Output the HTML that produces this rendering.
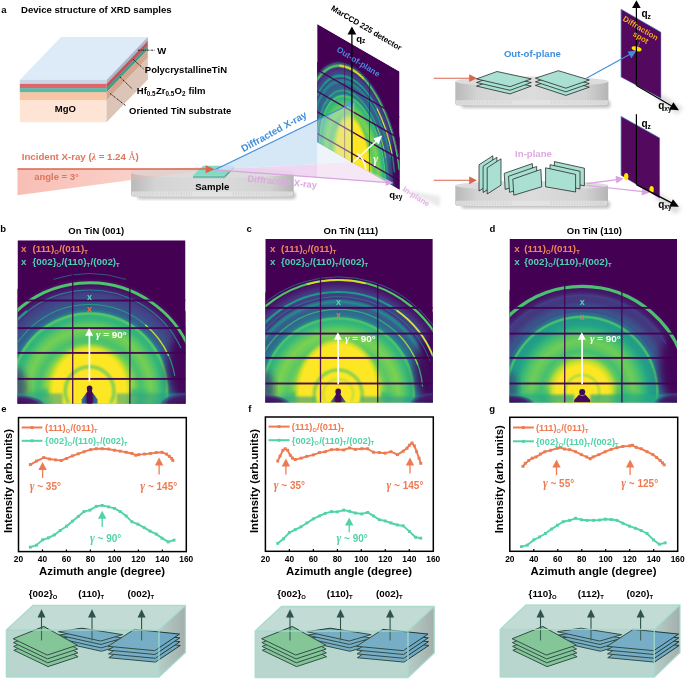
<!DOCTYPE html>
<html><head><meta charset="utf-8"><title>XRD figure</title>
<style>
html,body{margin:0;padding:0;background:#fff;}
svg{display:block;font-family:"Liberation Sans", Arial, sans-serif;}
</style></head><body>
<svg width="685" height="679" viewBox="0 0 685 679">
<defs>
<linearGradient id="bs" x1="0" y1="0" x2="1" y2="0"><stop offset="0" stop-color="#27808e"/><stop offset="0.22" stop-color="#3b528b"/><stop offset="0.38" stop-color="#440154"/><stop offset="0.62" stop-color="#440154"/><stop offset="0.78" stop-color="#3b528b"/><stop offset="1" stop-color="#27808e"/></linearGradient>
<filter id="blur3" x="-20%" y="-20%" width="140%" height="140%"><feGaussianBlur stdDeviation="0.3"/></filter>
<filter id="blur5" x="-20%" y="-20%" width="140%" height="140%"><feGaussianBlur stdDeviation="0.5"/></filter>
<filter id="blur8" x="-20%" y="-20%" width="140%" height="140%"><feGaussianBlur stdDeviation="0.8"/></filter>
<filter id="blur10" x="-20%" y="-20%" width="140%" height="140%"><feGaussianBlur stdDeviation="1.0"/></filter>
<filter id="blur15" x="-20%" y="-20%" width="140%" height="140%"><feGaussianBlur stdDeviation="1.5"/></filter>
<filter id="blur20" x="-20%" y="-20%" width="140%" height="140%"><feGaussianBlur stdDeviation="2.0"/></filter>
<filter id="blur30" x="-20%" y="-20%" width="140%" height="140%"><feGaussianBlur stdDeviation="3.0"/></filter>
<filter id="blur40" x="-20%" y="-20%" width="140%" height="140%"><feGaussianBlur stdDeviation="4.0"/></filter>
<radialGradient id="gb" gradientUnits="userSpaceOnUse" cx="0" cy="0" r="125"><stop offset="0.0000" stop-color="#b0dc2f"/><stop offset="0.3200" stop-color="#b0dc2f"/><stop offset="0.3520" stop-color="#87d448"/><stop offset="0.3920" stop-color="#54c467"/><stop offset="0.4160" stop-color="#49c16d"/><stop offset="0.4480" stop-color="#5fc860"/><stop offset="0.4880" stop-color="#75cf54"/><stop offset="0.5280" stop-color="#5fc860"/><stop offset="0.5600" stop-color="#41bd72"/><stop offset="0.5840" stop-color="#33b47a"/><stop offset="0.6040" stop-color="#33b47a"/><stop offset="0.6144" stop-color="#54c467"/><stop offset="0.6256" stop-color="#54c467"/><stop offset="0.6360" stop-color="#26828d"/><stop offset="0.6560" stop-color="#34628d"/><stop offset="0.6800" stop-color="#375a8c"/><stop offset="0.7040" stop-color="#3a548b"/><stop offset="0.7440" stop-color="#3f4988"/><stop offset="0.7840" stop-color="#423e83"/><stop offset="0.8080" stop-color="#482475"/><stop offset="0.8440" stop-color="#461264"/><stop offset="0.8880" stop-color="#450c5e"/><stop offset="0.9040" stop-color="#440154"/><stop offset="1.0000" stop-color="#440154"/></radialGradient>
<clipPath id="cb"><rect x="0" y="0" width="168" height="163.5"/></clipPath>
<radialGradient id="fb"><stop offset="0" stop-color="#440154" stop-opacity="1"/><stop offset="0.7" stop-color="#45186a" stop-opacity="0.95"/><stop offset="0.9" stop-color="#3b3f86" stop-opacity="0.6"/><stop offset="1" stop-color="#2a788e" stop-opacity="0"/></radialGradient>
<linearGradient id="wb" gradientUnits="userSpaceOnUse" x1="4.099999999999994" y1="0" x2="140.1" y2="0"><stop offset="0" stop-color="#35b779" stop-opacity="0"/><stop offset="0.15" stop-color="#35b779" stop-opacity="0.8"/><stop offset="0.5" stop-color="#bddf26" stop-opacity="0.8"/><stop offset="0.85" stop-color="#35b779" stop-opacity="0.8"/><stop offset="1" stop-color="#35b779" stop-opacity="0"/></linearGradient>
<radialGradient id="kb" gradientUnits="userSpaceOnUse" cx="0" cy="0" r="48"><stop offset="0.0000" stop-color="#fde725" stop-opacity="1"/><stop offset="0.8333" stop-color="#fde725" stop-opacity="1"/><stop offset="0.9083" stop-color="#d7e226" stop-opacity="0.9"/><stop offset="1.0000" stop-color="#a2d937" stop-opacity="0"/></radialGradient>
<radialGradient id="gc" gradientUnits="userSpaceOnUse" cx="0" cy="0" r="125"><stop offset="0.0000" stop-color="#b0dc2f"/><stop offset="0.3360" stop-color="#b0dc2f"/><stop offset="0.3760" stop-color="#6fcd57"/><stop offset="0.4080" stop-color="#5ac664"/><stop offset="0.4400" stop-color="#6acc5a"/><stop offset="0.4800" stop-color="#7ad151"/><stop offset="0.5200" stop-color="#5fc860"/><stop offset="0.5520" stop-color="#41bd72"/><stop offset="0.5760" stop-color="#33b47a"/><stop offset="0.5904" stop-color="#33b47a"/><stop offset="0.6000" stop-color="#4fc36a"/><stop offset="0.6096" stop-color="#49c16d"/><stop offset="0.6200" stop-color="#25878d"/><stop offset="0.6400" stop-color="#2d708e"/><stop offset="0.6720" stop-color="#33648d"/><stop offset="0.7040" stop-color="#365c8c"/><stop offset="0.7200" stop-color="#31698d"/><stop offset="0.7360" stop-color="#238c8c"/><stop offset="0.7520" stop-color="#31698d"/><stop offset="0.7640" stop-color="#443780"/><stop offset="0.7760" stop-color="#423e83"/><stop offset="0.8240" stop-color="#414487"/><stop offset="0.8720" stop-color="#482072"/><stop offset="0.9200" stop-color="#45085b"/><stop offset="0.9440" stop-color="#440154"/><stop offset="1.0000" stop-color="#440154"/></radialGradient>
<clipPath id="cc"><rect x="0" y="0" width="167.5" height="163.5"/></clipPath>
<radialGradient id="fc"><stop offset="0" stop-color="#440154" stop-opacity="1"/><stop offset="0.7" stop-color="#45186a" stop-opacity="0.95"/><stop offset="0.9" stop-color="#3b3f86" stop-opacity="0.6"/><stop offset="1" stop-color="#2a788e" stop-opacity="0"/></radialGradient>
<linearGradient id="wc" gradientUnits="userSpaceOnUse" x1="8.900000000000006" y1="0" x2="136.9" y2="0"><stop offset="0" stop-color="#35b779" stop-opacity="0"/><stop offset="0.15" stop-color="#35b779" stop-opacity="0.8"/><stop offset="0.5" stop-color="#bddf26" stop-opacity="0.8"/><stop offset="0.85" stop-color="#35b779" stop-opacity="0.8"/><stop offset="1" stop-color="#35b779" stop-opacity="0"/></linearGradient>
<radialGradient id="kc" gradientUnits="userSpaceOnUse" cx="0" cy="0" r="57"><stop offset="0.0000" stop-color="#fde725" stop-opacity="1"/><stop offset="0.8596" stop-color="#fde725" stop-opacity="1"/><stop offset="0.9228" stop-color="#d7e226" stop-opacity="0.9"/><stop offset="1.0000" stop-color="#a2d937" stop-opacity="0"/></radialGradient>
<radialGradient id="gd" gradientUnits="userSpaceOnUse" cx="0" cy="0" r="125"><stop offset="0.0000" stop-color="#b6de2a"/><stop offset="0.2080" stop-color="#b6de2a"/><stop offset="0.2560" stop-color="#9cd83c"/><stop offset="0.2960" stop-color="#5ac664"/><stop offset="0.3280" stop-color="#44bf70"/><stop offset="0.3600" stop-color="#5ac664"/><stop offset="0.4080" stop-color="#6fcd57"/><stop offset="0.4560" stop-color="#54c467"/><stop offset="0.4960" stop-color="#36b678"/><stop offset="0.5360" stop-color="#22a386"/><stop offset="0.5680" stop-color="#229c88"/><stop offset="0.5864" stop-color="#229c88"/><stop offset="0.5960" stop-color="#44bf70"/><stop offset="0.6056" stop-color="#44bf70"/><stop offset="0.6160" stop-color="#2c738e"/><stop offset="0.6480" stop-color="#375a8c"/><stop offset="0.6800" stop-color="#3c4f89"/><stop offset="0.7280" stop-color="#443780"/><stop offset="0.7760" stop-color="#433a82"/><stop offset="0.8000" stop-color="#471d6e"/><stop offset="0.8560" stop-color="#45085b"/><stop offset="0.8880" stop-color="#440154"/><stop offset="1.0000" stop-color="#440154"/></radialGradient>
<clipPath id="cd"><rect x="0" y="0" width="167.5" height="163.5"/></clipPath>
<radialGradient id="fd"><stop offset="0" stop-color="#440154" stop-opacity="1"/><stop offset="0.7" stop-color="#45186a" stop-opacity="0.95"/><stop offset="0.9" stop-color="#3b3f86" stop-opacity="0.6"/><stop offset="1" stop-color="#2a788e" stop-opacity="0"/></radialGradient>
<linearGradient id="wd" gradientUnits="userSpaceOnUse" x1="10.700000000000003" y1="0" x2="134.7" y2="0"><stop offset="0" stop-color="#35b779" stop-opacity="0"/><stop offset="0.15" stop-color="#35b779" stop-opacity="0.7"/><stop offset="0.5" stop-color="#bddf26" stop-opacity="0.7"/><stop offset="0.85" stop-color="#35b779" stop-opacity="0.7"/><stop offset="1" stop-color="#35b779" stop-opacity="0"/></linearGradient>
<radialGradient id="kd" gradientUnits="userSpaceOnUse" cx="0" cy="0" r="35"><stop offset="0.0000" stop-color="#fde725" stop-opacity="1"/><stop offset="0.7429" stop-color="#fde725" stop-opacity="1"/><stop offset="0.8586" stop-color="#d7e226" stop-opacity="0.9"/><stop offset="1.0000" stop-color="#a2d937" stop-opacity="0"/></radialGradient>
<radialGradient id="ga" gradientUnits="userSpaceOnUse" cx="0" cy="0" r="125"><stop offset="0.0000" stop-color="#b0dc2f"/><stop offset="0.3360" stop-color="#b0dc2f"/><stop offset="0.3760" stop-color="#6fcd57"/><stop offset="0.4080" stop-color="#5ac664"/><stop offset="0.4400" stop-color="#6acc5a"/><stop offset="0.4800" stop-color="#7ad151"/><stop offset="0.5200" stop-color="#5fc860"/><stop offset="0.5520" stop-color="#41bd72"/><stop offset="0.5760" stop-color="#33b47a"/><stop offset="0.5904" stop-color="#33b47a"/><stop offset="0.6000" stop-color="#4fc36a"/><stop offset="0.6096" stop-color="#49c16d"/><stop offset="0.6200" stop-color="#25878d"/><stop offset="0.6400" stop-color="#2d708e"/><stop offset="0.6720" stop-color="#33648d"/><stop offset="0.7040" stop-color="#365c8c"/><stop offset="0.7200" stop-color="#31698d"/><stop offset="0.7360" stop-color="#238c8c"/><stop offset="0.7520" stop-color="#31698d"/><stop offset="0.7640" stop-color="#443780"/><stop offset="0.7760" stop-color="#423e83"/><stop offset="0.8240" stop-color="#414487"/><stop offset="0.8720" stop-color="#482072"/><stop offset="0.9200" stop-color="#45085b"/><stop offset="0.9440" stop-color="#440154"/><stop offset="1.0000" stop-color="#440154"/></radialGradient>
<clipPath id="ca"><rect x="0" y="0" width="190" height="140"/></clipPath>
<radialGradient id="fa"><stop offset="0" stop-color="#440154" stop-opacity="1"/><stop offset="0.7" stop-color="#45186a" stop-opacity="0.95"/><stop offset="0.9" stop-color="#3b3f86" stop-opacity="0.6"/><stop offset="1" stop-color="#2a788e" stop-opacity="0"/></radialGradient>
<radialGradient id="ka" gradientUnits="userSpaceOnUse" cx="0" cy="0" r="58"><stop offset="0.0000" stop-color="#fde725" stop-opacity="1"/><stop offset="0.8276" stop-color="#fde725" stop-opacity="1"/><stop offset="0.9052" stop-color="#d7e226" stop-opacity="0.9"/><stop offset="1.0000" stop-color="#a2d937" stop-opacity="0"/></radialGradient>
<linearGradient id="inc" x1="0" y1="0" x2="1" y2="0"><stop offset="0" stop-color="#f7b7ac"/><stop offset="1" stop-color="#fbd9d3"/></linearGradient>
<linearGradient id="disc" x1="0" y1="0" x2="1" y2="0"><stop offset="0" stop-color="#b9b9b9"/><stop offset="0.15" stop-color="#d4d4d4"/><stop offset="0.5" stop-color="#dcdcdc"/><stop offset="0.85" stop-color="#d2d2d2"/><stop offset="1" stop-color="#b5b5b5"/></linearGradient>
<clipPath id="wl"><rect x="0" y="0" width="317.2" height="300"/></clipPath><clipPath id="wr"><rect x="317.2" y="0" width="200" height="300"/></clipPath>
<linearGradient id="boxr" x1="0" y1="0" x2="1" y2="0"><stop offset="0" stop-color="#b5cdc7"/><stop offset="1" stop-color="#a3aeab"/></linearGradient>
</defs>
<rect width="685" height="679" fill="#fff"/>
<!-- panel a -->
<text x="1.30" y="13.20" font-size="9.5" fill="#000" text-anchor="start" font-weight="bold" >a</text>
<text x="21.00" y="13.20" font-size="9.58" fill="#000" text-anchor="start" font-weight="bold" >Device structure of XRD samples</text>
<polygon points="19.8,79.9 106.5,79.9 147.8,37.10000000000001 61.099999999999994,37.10000000000001" fill="#dcebf7"/>
<rect x="19.8" y="79.9" width="86.7" height="4.30" fill="#cbd5e5"/>
<polygon points="106.5,79.9 147.8,37.10000000000001 147.8,41.400000000000006 106.5,84.2" fill="#aeb7c9"/>
<rect x="19.8" y="83.9" width="86.7" height="4.50" fill="#e1636b"/>
<polygon points="106.5,83.9 147.8,41.10000000000001 147.8,45.599999999999994 106.5,88.39999999999999" fill="#c2525b"/>
<rect x="19.8" y="88.1" width="86.7" height="4.50" fill="#5dbba3"/>
<polygon points="106.5,88.1 147.8,45.3 147.8,49.8 106.5,92.6" fill="#4a9c89"/>
<rect x="19.8" y="92.3" width="86.7" height="8.20" fill="#f8c5a6"/>
<polygon points="106.5,92.3 147.8,49.5 147.8,57.7 106.5,100.5" fill="#d4a68e"/>
<rect x="19.8" y="100.2" width="86.7" height="22.00" fill="#fde4d4"/>
<polygon points="106.5,100.2 147.8,57.400000000000006 147.8,79.4 106.5,122.2" fill="#dcc4b7"/>
<text x="65.40" y="112.00" font-size="9.5" fill="#000" text-anchor="middle" font-weight="bold" >MgO</text>
<line x1="138" y1="50.2" x2="154.5" y2="50.2" stroke="#111" stroke-width="0.9" stroke-dasharray="2,0.8,0.8,0.8"/>
<text x="157.30" y="53.80" font-size="9.5" fill="#000" text-anchor="start" font-weight="bold" >W</text>
<line x1="133.1" y1="59.3" x2="143.6" y2="68.9" stroke="#111" stroke-width="0.9" stroke-dasharray="2,0.8,0.8,0.8"/>
<text x="144.80" y="72.80" font-size="9.5" fill="#000" text-anchor="start" font-weight="bold" >PolycrystallineTiN</text>
<line x1="119.8" y1="76.9" x2="132.6" y2="89.2" stroke="#111" stroke-width="0.9" stroke-dasharray="2,0.8,0.8,0.8"/>
<text x="136.80" y="93.60" font-size="9.5" fill="#000" text-anchor="start" font-weight="bold" >Hf<tspan dy="1.90" font-size="6.27">0.5</tspan><tspan dy="-1.90" dx="0.4" font-size="0.95">&#8203;</tspan>Zr<tspan dy="1.90" font-size="6.27">0.5</tspan><tspan dy="-1.90" dx="0.4" font-size="0.95">&#8203;</tspan>O<tspan dy="1.90" font-size="6.27">2</tspan><tspan dy="-1.90" dx="0.4" font-size="0.95">&#8203;</tspan> film</text>
<line x1="110" y1="93.4" x2="125.6" y2="105.6" stroke="#111" stroke-width="0.9" stroke-dasharray="2,0.8,0.8,0.8"/>
<text x="129.10" y="113.70" font-size="9.5" fill="#000" text-anchor="start" font-weight="bold" >Oriented TiN substrate</text>
<polygon points="17.5,169 214,169 17.5,195.3" fill="url(#inc)" opacity="0.9"/>
<rect x="137.1" y="191.8" width="158.6" height="7.5" rx="3" fill="#888" opacity="0.5" filter="url(#blur15)"/><path d="M131.1,172.79999999999998 V194.3 Q131.1,196.8 134.1,196.8 H290.7 Q293.7,196.8 293.7,194.3 V172.79999999999998 Z" fill="url(#disc)"/><path d="M131.6,191.60000000000002 H293.2 V194.3 Q293.2,196.5 290.7,196.5 H134.1 Q131.6,196.5 131.6,194.3 Z" fill="#e6e6e6" opacity="0.75"/><path d="M134.1,193.9 H192.075 M232.725,193.9 H290.7" stroke="#cfcfcf" stroke-width="3.6" stroke-dasharray="1.3,1.3" opacity="0.55"/><ellipse cx="212.39999999999998" cy="172.79999999999998" rx="81.3" ry="5.2" fill="#dcdcdc"/>
<polygon points="131,169 214,169 131,180.2" fill="#f7b7ac" opacity="0.3"/>
<polygon points="193,175.6 224.5,175.6 224.5,178.2 193,178.2" fill="#6cc0ab"/>
<polygon points="224.5,175.6 233.9,165.7 233.9,168.3 224.5,178.2" fill="#58a996"/>
<polygon points="203.2,165.7 233.9,165.7 224.5,175.6 193,175.6" fill="#86d9c4"/>
<text x="212.30" y="189.50" font-size="9.6" fill="#000" text-anchor="middle" font-weight="bold" >Sample</text>
<text x="21.70" y="159.80" font-size="9.7" fill="#e0755c" text-anchor="start" font-weight="bold" >Incident X-ray (<tspan font-style="italic" font-family="Liberation Serif">λ</tspan> = 1.24 <tspan font-family="Liberation Serif" font-weight="normal">Å</tspan>)</text>
<text x="34.30" y="180.30" font-size="9.45" fill="#e0755c" text-anchor="start" font-weight="bold" >angle = 3°</text>
<line x1="17.5" y1="169" x2="208" y2="169" stroke="#d9664d" stroke-width="1.5"/>
<polygon points="214.9,169.2 205.6,165.2 205.6,173.2" fill="#d9664d"/>
<g transform="matrix(0.4332,0.2489,0,0.8443,317.2,24.1)"><g clip-path="url(#ca)"><rect x="0" y="0" width="190" height="140" fill="#440154"/><g transform="translate(81.4,140) scale(1.0,1)"><circle cx="0" cy="0" r="125" fill="url(#ga)"/></g><ellipse cx="196" cy="114" rx="26" ry="40" fill="#440154" fill-opacity="0.9" filter="url(#blur40)"/><g transform="translate(81.4,140) scale(0.75,1)"><circle cx="0" cy="0" r="58" fill="url(#ka)"/></g><g filter="url(#blur5)"><path d="M187.68,101.32 A113.098,113.098 0 0 0 -24.88,101.32" fill="none" stroke="#26828e" stroke-width="1.2000000000000002" stroke-opacity="0.9" stroke-linecap="butt"/><path d="M189.01,117.13 A110.00999999999999,110.00999999999999 0 0 0 -26.21,117.13" fill="none" stroke="#4fc46a" stroke-width="3.3000000000000003" stroke-opacity="1" stroke-linecap="butt"/><path d="M108.01,33.26 A110.00999999999999,110.00999999999999 0 0 0 51.08,34.25" fill="none" stroke="#dde318" stroke-width="2.7" stroke-opacity="0.95" stroke-linecap="butt"/><path d="M178.33,122.91 A98.42999999999999,98.42999999999999 0 0 0 -15.53,122.91" fill="none" stroke="#1f9e89" stroke-width="3.0" stroke-opacity="0.95" stroke-linecap="butt"/><path d="M172.66,103.13 A98.42999999999999,98.42999999999999 0 0 0 137.86,59.37" fill="none" stroke="#fde725" stroke-width="2.25" stroke-opacity="0.95" stroke-linecap="butt"/><path d="M169.81,107.82 A94.08749999999999,94.08749999999999 0 0 0 -9.48,115.65" fill="none" stroke="#26828e" stroke-width="1.35" stroke-opacity="0.8" stroke-linecap="butt"/><path d="M162.82,132.88 A81.7355,81.7355 0 0 0 -0.02,132.88" fill="none" stroke="#35b779" stroke-width="1.7999999999999998" stroke-opacity="0.9" stroke-linecap="butt"/><path d="M158.21,112.04 A81.7355,81.7355 0 0 0 139.20,82.20" fill="none" stroke="#bddf26" stroke-width="1.7999999999999998" stroke-opacity="0.8" stroke-linecap="butt"/></g><g filter="url(#blur10)"></g><rect x="0" y="53.05" width="190" height="1.9" fill="#440154" fill-opacity="0.95"/><rect x="0" y="78.65" width="190" height="1.9" fill="#440154" fill-opacity="0.95"/><rect x="0" y="102.95" width="190" height="1.9" fill="#440154" fill-opacity="0.95"/><rect x="0" y="128.55" width="190" height="1.9" fill="#440154" fill-opacity="0.95"/><rect x="63.05" y="18.0" width="1.3" height="140" fill="#440154" fill-opacity="0.92"/><rect x="120.25" y="18.0" width="1.3" height="140" fill="#440154" fill-opacity="0.92"/></g></g>
<g clip-path="url(#wl)"><polygon points="214.9,169.8 354.5,102 351.5,162" fill="#cfe4f5" opacity="0.85"/><polygon points="214.9,169.8 351.5,162 393.4,183.1" fill="#ecd0ee" opacity="0.85"/></g>
<g clip-path="url(#wr)"><polygon points="214.9,169.8 354.5,102 351.5,162" fill="#cfe4f5" opacity="0.38"/><polygon points="214.9,169.8 351.5,162 393.4,183.1" fill="#ecd0ee" opacity="0.5"/></g>
<polygon points="399.5,189.1 440,196 440,207 399.5,189.1" fill="#ddd" opacity="0.6" filter="url(#blur15)"/>
<line x1="214.9" y1="169.8" x2="350" y2="104.2" stroke="#3f8fdc" stroke-width="1.2"/>
<polygon points="354.8,101.8 346.5,102.4 349.6,108.6" fill="#5b9be0" opacity="0.9"/>
<line x1="214.9" y1="169.8" x2="388" y2="182.7" stroke="#d9a3df" stroke-width="1.2"/>
<polygon points="393.6,183.1 386,179 385.5,185.8" fill="#d9a3df"/>
<text transform="translate(275.5,134.5) rotate(-29)" text-anchor="middle" font-size="9.85" font-weight="bold" fill="#3f8fdc">Diffracted X-ray</text>
<text transform="translate(282,185) rotate(5.3)" text-anchor="middle" font-size="9.4" font-weight="bold" fill="#dda9e0">Diffracted X-ray</text>
<line x1="351.9" y1="33" x2="351.9" y2="162.4" stroke="#000" stroke-width="1.3"/>
<polygon points="351.9,26.5 347.5,34.6 356.3,34.6" fill="#000"/>
<text x="356.30" y="41.50" font-size="9.5" fill="#000" text-anchor="start" font-weight="bold" >q<tspan dy="1.90" font-size="6.65">z</tspan><tspan dy="-1.90" dx="0.4" font-size="0.95">&#8203;</tspan></text>
<text x="389.30" y="197.50" font-size="9.5" fill="#000" text-anchor="start" font-weight="bold" >q<tspan dy="1.90" font-size="6.65">xy</tspan><tspan dy="-1.90" dx="0.4" font-size="0.95">&#8203;</tspan></text>
<text transform="translate(330.5,9.8) rotate(30.6)" font-size="7.95" font-weight="bold" fill="#000">MarCCD 225 detector</text>
<text transform="translate(336,51) rotate(32)" font-size="8.3" font-weight="bold" fill="#4b86dd">Out-of-plane</text>
<text transform="translate(402,190.5) rotate(32.9)" font-size="7.9" font-weight="bold" fill="#e3b4e3">In-plane</text>
<line x1="353.5" y1="162" x2="377.5" y2="140" stroke="#fff" stroke-width="1.5"/>
<polygon points="382.2,135.6 373.2,138.4 378.6,144.4" fill="#fff"/>
<path d="M357,153.5 Q364,158 366,169.5" fill="none" stroke="#fff" stroke-width="1.5"/>
<text x="373.3" y="163" font-size="11.5" font-style="italic" font-weight="bold" font-family="Liberation Serif" fill="#fff">γ</text>
<rect x="461.3" y="100.4" width="149.09999999999997" height="7.5" rx="3" fill="#888" opacity="0.5" filter="url(#blur15)"/><path d="M455.3,81.5 V102.9 Q455.3,105.4 458.3,105.4 H605.4 Q608.4,105.4 608.4,102.9 V81.5 Z" fill="url(#disc)"/><path d="M455.8,100.2 H607.9 V102.9 Q607.9,105.10000000000001 605.4,105.10000000000001 H458.3 Q455.8,105.10000000000001 455.8,102.9 Z" fill="#e6e6e6" opacity="0.75"/><path d="M458.3,102.5 H512.7125 M550.9875,102.5 H605.4" stroke="#cfcfcf" stroke-width="3.6" stroke-dasharray="1.3,1.3" opacity="0.55"/><ellipse cx="531.85" cy="81.5" rx="76.54999999999998" ry="5.0" fill="#dcdcdc"/>
<line x1="433.7" y1="78.2" x2="471" y2="78.2" stroke="#d9664d" stroke-width="1.1"/>
<polygon points="477,78.2 469.2,74.3 469.2,82.1" fill="#d9664d"/>
<polygon points="476.50,86.10 497.00,78.70 531.30,86.10 510.00,93.90" fill="#a9e0d1" stroke="#111" stroke-width="0.7" stroke-linejoin="round"/><polygon points="476.50,82.50 497.00,75.10 531.30,82.50 510.00,90.30" fill="#a9e0d1" stroke="#111" stroke-width="0.7" stroke-linejoin="round"/><polygon points="476.50,78.90 497.00,71.50 531.30,78.90 510.00,86.70" fill="#a9e0d1" stroke="#111" stroke-width="0.7" stroke-linejoin="round"/>
<polygon points="535.40,85.40 558.40,77.90 589.30,87.20 565.90,95.40" fill="#a9e0d1" stroke="#111" stroke-width="0.7" stroke-linejoin="round"/><polygon points="535.40,81.80 558.40,74.30 589.30,83.60 565.90,91.80" fill="#a9e0d1" stroke="#111" stroke-width="0.7" stroke-linejoin="round"/><polygon points="535.40,78.20 558.40,70.70 589.30,80.00 565.90,88.20" fill="#a9e0d1" stroke="#111" stroke-width="0.7" stroke-linejoin="round"/>
<text x="532.40" y="56.60" font-size="9.6" fill="#3f8fdc" text-anchor="middle" font-weight="bold" >Out-of-plane</text>
<polygon points="660.9,94.3 682.9,108.3 676.9,114.3 654.9,97.3" fill="#bbb" opacity="0.55" filter="url(#blur20)"/><polygon points="621.1,9.3 660.9,32.2 660.9,98.3 621.1,77.1" fill="#52095e"/><polyline points="621.1,77.1 621.1,9.3 660.9,32.2" fill="none" stroke="#3f6fc4" stroke-width="0.7"/><polyline points="660.9,32.2 660.9,98.3 621.1,77.1" fill="none" stroke="#3f5fb4" stroke-width="0.5" opacity="0.8"/>
<line x1="586.4" y1="78.2" x2="630.5" y2="54" stroke="#3f8fdc" stroke-width="1.1"/>
<ellipse cx="636.6" cy="48.8" rx="5.1" ry="2.3" fill="#ffe600" transform="rotate(14 636.6 48.8)"/>
<polygon points="636.4,50.8 627.6,51.6 631.4,58.2" fill="#3f8fdc"/>
<line x1="636.4" y1="6" x2="636.4" y2="85.6" stroke="#000" stroke-width="1.2"/>
<polygon points="636.4,0.3 632.1,8 640.7,8" fill="#000"/>
<line x1="636.4" y1="85.6" x2="672.5" y2="106.6" stroke="#000" stroke-width="1.2"/>
<polygon points="678.9,110.3 669.2,109.6 673.4,102.3" fill="#000"/>
<text x="641.40" y="17.00" font-size="10" fill="#000" text-anchor="start" font-weight="bold" >q<tspan dy="1.90" font-size="6.65">z</tspan><tspan dy="-1.90" dx="0.4" font-size="0.95">&#8203;</tspan></text>
<text x="658.20" y="109.30" font-size="10" fill="#000" text-anchor="start" font-weight="bold" >q<tspan dy="1.90" font-size="6.65">xy</tspan><tspan dy="-1.90" dx="0.4" font-size="0.95">&#8203;</tspan></text>
<text transform="translate(622.3,20.3) rotate(31)" font-size="7.9" font-weight="bold" fill="#f5a81c">Diffraction</text>
<text transform="translate(632.3,35.5) rotate(31)" font-size="7.9" font-weight="bold" fill="#f5a81c">spot</text>
<line x1="639.8" y1="41.5" x2="638.2" y2="46.5" stroke="#f5a81c" stroke-width="0.5"/>
<rect x="461.3" y="201" width="148.7" height="7.5" rx="3" fill="#888" opacity="0.5" filter="url(#blur15)"/><path d="M455.3,185.6 V203.5 Q455.3,206 458.3,206 H605 Q608,206 608,203.5 V185.6 Z" fill="url(#disc)"/><path d="M455.8,200.8 H607.5 V203.5 Q607.5,205.7 605,205.7 H458.3 Q455.8,205.7 455.8,203.5 Z" fill="#e6e6e6" opacity="0.75"/><path d="M458.3,203.1 H512.5625 M550.7375,203.1 H605" stroke="#cfcfcf" stroke-width="3.6" stroke-dasharray="1.3,1.3" opacity="0.55"/><ellipse cx="531.65" cy="185.6" rx="76.35" ry="4.6" fill="#dcdcdc"/>
<line x1="433.7" y1="180.3" x2="471" y2="180.3" stroke="#d9664d" stroke-width="1.1"/>
<polygon points="477,180.3 469.2,176.4 469.2,184.2" fill="#d9664d"/>
<text x="533.50" y="157.00" font-size="9.6" fill="#dda9e0" text-anchor="middle" font-weight="bold" >In-plane</text>
<polygon points="479.00,164.80 492.80,155.80 492.80,182.20 479.00,191.00" fill="#a9e0d1" stroke="#111" stroke-width="0.7" stroke-linejoin="round"/><polygon points="483.10,166.30 496.90,157.30 496.90,183.70 483.10,192.50" fill="#a9e0d1" stroke="#111" stroke-width="0.7" stroke-linejoin="round"/><polygon points="487.20,167.80 501.00,158.80 501.00,185.20 487.20,194.00" fill="#a9e0d1" stroke="#111" stroke-width="0.7" stroke-linejoin="round"/>
<polygon points="504.20,173.40 532.30,163.60 533.10,181.00 505.20,189.40" fill="#a9e0d1" stroke="#111" stroke-width="0.7" stroke-linejoin="round"/><polygon points="508.50,176.30 536.60,166.50 537.40,183.90 509.50,192.30" fill="#a9e0d1" stroke="#111" stroke-width="0.7" stroke-linejoin="round"/><polygon points="512.80,179.20 540.90,169.40 541.70,186.80 513.80,195.20" fill="#a9e0d1" stroke="#111" stroke-width="0.7" stroke-linejoin="round"/>
<polygon points="554.40,161.60 584.40,168.20 584.40,185.80 554.40,180.60" fill="#a9e0d1" stroke="#111" stroke-width="0.7" stroke-linejoin="round"/><polygon points="550.00,164.70 580.00,171.30 580.00,188.90 550.00,183.70" fill="#a9e0d1" stroke="#111" stroke-width="0.7" stroke-linejoin="round"/><polygon points="545.60,167.80 575.60,174.40 575.60,192.00 545.60,186.80" fill="#a9e0d1" stroke="#111" stroke-width="0.7" stroke-linejoin="round"/>
<polygon points="659.6,194.1 681.6,208.1 675.6,214.1 653.6,197.1" fill="#bbb" opacity="0.55" filter="url(#blur20)"/><polygon points="621.1,116.4 659.6,138 659.6,198.1 621.1,175.3" fill="#52095e"/><polyline points="621.1,175.3 621.1,116.4 659.6,138" fill="none" stroke="#3f6fc4" stroke-width="0.7"/><polyline points="659.6,138 659.6,198.1 621.1,175.3" fill="none" stroke="#3f5fb4" stroke-width="0.5" opacity="0.8"/>
<line x1="586.8" y1="183.6" x2="617" y2="179.6" stroke="#d9a3df" stroke-width="1.1"/>
<polygon points="623.6,178.6 615.5,175.8 616.5,183.4" fill="#d9a3df"/>
<line x1="586.8" y1="185.5" x2="643" y2="191.6" stroke="#d9a3df" stroke-width="1.1"/>
<polygon points="649.9,192.5 642.4,187.8 641.5,195.4" fill="#d9a3df"/>
<ellipse cx="626.2" cy="176.6" rx="2.2" ry="3.6" fill="#ffe600"/>
<ellipse cx="651.6" cy="189.7" rx="2.2" ry="3.6" fill="#ffe600"/>
<line x1="636.4" y1="114.2" x2="636.4" y2="184.6" stroke="#000" stroke-width="1.2"/>
<line x1="636.4" y1="184.6" x2="672.5" y2="203.4" stroke="#000" stroke-width="1.2"/>
<polygon points="678.9,206.7 669.2,206.6 673,199.2" fill="#000"/>
<text x="641.40" y="127.00" font-size="10" fill="#000" text-anchor="start" font-weight="bold" >q<tspan dy="1.90" font-size="6.65">z</tspan><tspan dy="-1.90" dx="0.4" font-size="0.95">&#8203;</tspan></text>
<text x="658.20" y="207.50" font-size="10" fill="#000" text-anchor="start" font-weight="bold" >q<tspan dy="1.90" font-size="6.65">xy</tspan><tspan dy="-1.90" dx="0.4" font-size="0.95">&#8203;</tspan></text>
<text x="0.20" y="232.00" font-size="9.5" fill="#000" text-anchor="start" font-weight="bold" >b</text>
<text x="96.20" y="234.20" font-size="9.5" fill="#000" text-anchor="middle" font-weight="bold" >On TiN (001)</text>
<g transform="translate(17.5,240.3)"><g clip-path="url(#cb)"><rect x="0" y="0" width="168" height="163.5" fill="#440154"/><g transform="translate(72.1,150.7) scale(1.0,1)"><circle cx="0" cy="0" r="125" fill="url(#gb)"/></g><ellipse cx="172" cy="126" rx="22" ry="38" fill="#440154" fill-opacity="0.9" filter="url(#blur40)"/><ellipse cx="0" cy="150" rx="10" ry="22" fill="#45256f" fill-opacity="0.6" filter="url(#blur30)"/><ellipse cx="72.1" cy="151.7" rx="68.0" ry="4.5" fill="url(#wb)" filter="url(#blur15)"/><g transform="translate(72.1,150.7) scale(0.9,1)"><circle cx="0" cy="0" r="48" fill="url(#kb)"/></g><g filter="url(#blur5)"><path d="M176.61,122.70 A108.2,108.2 0 0 0 -35.84,143.15" fill="none" stroke="#4fc46a" stroke-width="2.9" stroke-opacity="1" stroke-linecap="butt"/><path d="M163.64,108.02 A101,101 0 0 0 -27.37,133.16" fill="none" stroke="#23898e" stroke-width="1.1" stroke-opacity="0.9" stroke-linecap="butt"/><path d="M9.61,70.72 A101.5,101.5 0 0 0 -29.15,143.62" fill="none" stroke="#2a9d8a" stroke-width="2.4" stroke-opacity="0.8" stroke-linecap="butt"/><path d="M157.29,135.68 A86.5,86.5 0 0 0 -13.56,138.66" fill="none" stroke="#2a9d8a" stroke-width="1.1" stroke-opacity="0.9" stroke-linecap="butt"/><path d="M151.12,115.52 A86.5,86.5 0 0 0 127.70,84.44" fill="none" stroke="#d8e219" stroke-width="1.3" stroke-opacity="0.9" stroke-linecap="butt"/><path d="M108.38,39.05 A117.4,117.4 0 0 0 35.82,39.05" fill="none" stroke="#2c728e" stroke-width="0.9" stroke-opacity="0.85" stroke-linecap="butt"/></g><g filter="url(#blur10)"><path d="M93.14,162.85 A24.3,24.3 0 1 0 51.06,162.85" fill="none" stroke="#5ac664" stroke-width="3.4" stroke-opacity="0.75"/></g><g filter="url(#blur10)"><rect x="-5" y="153.2" width="50.1" height="12.800000000000011" fill="#2a9d8a" fill-opacity="0.55"/><rect x="99.1" y="153.2" width="73.9" height="12.800000000000011" fill="#2a9d8a" fill-opacity="0.55"/></g><ellipse cx="0" cy="165.5" rx="28.6" ry="11.0" fill="url(#fb)"/><ellipse cx="168" cy="165.5" rx="26.4" ry="13.2" fill="url(#fb)"/><rect x="0" y="59.25" width="168" height="1.9" fill="#440154" fill-opacity="0.95"/><rect x="0" y="86.85" width="168" height="1.9" fill="#440154" fill-opacity="0.95"/><rect x="0" y="111.65" width="168" height="1.9" fill="#440154" fill-opacity="0.95"/><rect x="0" y="137.65" width="168" height="1.9" fill="#440154" fill-opacity="0.95"/><rect x="54.55" y="28.7" width="1.3" height="163.5" fill="#440154" fill-opacity="0.92"/><rect x="111.75" y="28.7" width="1.3" height="163.5" fill="#440154" fill-opacity="0.92"/><path d="M69.5,151.7 L64.1,159.2 V163.5 H80.1 V159.2 L74.69999999999999,151.7 Z" fill="url(#bs)"/><circle cx="72.1" cy="148.1" r="2.8" fill="#3d0a55"/><rect x="69.69999999999999" y="148.7" width="4.8" height="14.800000000000011" fill="#42085a"/></g></g>
<text x="21.10" y="252.00" font-size="9.8" fill="#f0865a" text-anchor="start" font-weight="bold" >x</text>
<text x="32.50" y="252.00" font-size="9.8" fill="#f0865a" text-anchor="start" font-weight="bold" >(111)<tspan dy="1.96" font-size="5.88">O</tspan><tspan dy="-1.96" dx="0.4" font-size="0.98">&#8203;</tspan>/(011)<tspan dy="1.96" font-size="5.88">T</tspan><tspan dy="-1.96" dx="0.4" font-size="0.98">&#8203;</tspan></text>
<text x="21.10" y="265.40" font-size="9.8" fill="#4fd1ae" text-anchor="start" font-weight="bold" >x</text>
<text x="32.50" y="265.40" font-size="9.8" fill="#4fd1ae" text-anchor="start" font-weight="bold" >{002}<tspan dy="1.96" font-size="5.88">O</tspan><tspan dy="-1.96" dx="0.4" font-size="0.98">&#8203;</tspan>/(110)<tspan dy="1.96" font-size="5.88">T</tspan><tspan dy="-1.96" dx="0.4" font-size="0.98">&#8203;</tspan>/(002)<tspan dy="1.96" font-size="5.88">T</tspan><tspan dy="-1.96" dx="0.4" font-size="0.98">&#8203;</tspan></text>
<line x1="89.39999999999999" y1="381.6" x2="89.39999999999999" y2="334.2" stroke="#fff" stroke-width="1.7"/>
<polygon points="89.1,328.2 85.1,335.7 93.1,335.7" fill="#fff"/>
<text x="95.9" y="337.6" font-size="9.9" font-weight="bold" fill="#fff"><tspan font-style="italic" font-family="Liberation Serif" font-size="11">γ</tspan> = 90°</text>
<text x="89.60" y="299.70" font-size="9" fill="#58d4b4" text-anchor="middle" font-weight="bold" >x</text>
<text x="89.60" y="312.40" font-size="9" fill="#ee7048" text-anchor="middle" font-weight="bold" >x</text>
<text x="246.50" y="232.00" font-size="9.5" fill="#000" text-anchor="start" font-weight="bold" >c</text>
<text x="350.90" y="234.20" font-size="9.5" fill="#000" text-anchor="middle" font-weight="bold" >On TiN (111)</text>
<g transform="translate(265.3,239)"><g clip-path="url(#cc)"><rect x="0" y="0" width="167.5" height="163.5" fill="#440154"/><g transform="translate(72.9,155) scale(1.0,1)"><circle cx="0" cy="0" r="125" fill="url(#gc)"/></g><ellipse cx="171" cy="130" rx="21" ry="38" fill="#440154" fill-opacity="0.9" filter="url(#blur40)"/><ellipse cx="0" cy="152" rx="9" ry="20" fill="#45256f" fill-opacity="0.6" filter="url(#blur30)"/><ellipse cx="72.9" cy="156" rx="64.0" ry="4.5" fill="url(#wc)" filter="url(#blur15)"/><g transform="translate(72.9,155) scale(0.78,1)"><circle cx="0" cy="0" r="57" fill="url(#kc)"/></g><g filter="url(#blur5)"><path d="M183.03,114.92 A117.2,117.2 0 0 0 -37.23,114.92" fill="none" stroke="#26828e" stroke-width="0.8" stroke-opacity="0.9" stroke-linecap="butt"/><path d="M184.41,131.30 A114,114 0 0 0 -38.61,131.30" fill="none" stroke="#4fc46a" stroke-width="2.2" stroke-opacity="1" stroke-linecap="butt"/><path d="M100.48,44.39 A114,114 0 0 0 41.48,45.42" fill="none" stroke="#dde318" stroke-width="1.8" stroke-opacity="0.95" stroke-linecap="butt"/><path d="M173.35,137.29 A102,102 0 0 0 -27.55,137.29" fill="none" stroke="#1f9e89" stroke-width="2.0" stroke-opacity="0.95" stroke-linecap="butt"/><path d="M167.47,116.79 A102,102 0 0 0 131.40,71.45" fill="none" stroke="#fde725" stroke-width="1.5" stroke-opacity="0.95" stroke-linecap="butt"/><path d="M164.52,121.65 A97.5,97.5 0 0 0 -21.28,129.77" fill="none" stroke="#26828e" stroke-width="0.9" stroke-opacity="0.8" stroke-linecap="butt"/><path d="M157.28,147.62 A84.7,84.7 0 0 0 -11.48,147.62" fill="none" stroke="#35b779" stroke-width="1.2" stroke-opacity="0.9" stroke-linecap="butt"/><path d="M152.49,126.03 A84.7,84.7 0 0 0 132.79,95.11" fill="none" stroke="#bddf26" stroke-width="1.2" stroke-opacity="0.8" stroke-linecap="butt"/></g><g filter="url(#blur10)"><path d="M93.68,167.00 A24,24.0 0 1 0 52.12,167.00" fill="none" stroke="#64ca5d" stroke-width="3.0" stroke-opacity="0.85"/><path d="M85.89,162.50 A15,15.0 0 1 0 59.91,162.50" fill="none" stroke="#87d448" stroke-width="1.6" stroke-opacity="0.7"/></g><g filter="url(#blur10)"><rect x="-5" y="157.5" width="54.9" height="8.5" fill="#2a9d8a" fill-opacity="0.6"/><rect x="95.9" y="157.5" width="76.6" height="8.5" fill="#2a9d8a" fill-opacity="0.6"/></g><ellipse cx="0" cy="165.5" rx="26.0" ry="10.0" fill="url(#fc)"/><ellipse cx="167.5" cy="165.5" rx="24.0" ry="12.0" fill="url(#fc)"/><rect x="0" y="67.95" width="167.5" height="1.9" fill="#440154" fill-opacity="0.95"/><rect x="0" y="93.65" width="167.5" height="1.9" fill="#440154" fill-opacity="0.95"/><rect x="0" y="117.95" width="167.5" height="1.9" fill="#440154" fill-opacity="0.95"/><rect x="0" y="143.55" width="167.5" height="1.9" fill="#440154" fill-opacity="0.95"/><rect x="54.55" y="33.0" width="1.3" height="163.5" fill="#440154" fill-opacity="0.92"/><rect x="111.75" y="33.0" width="1.3" height="163.5" fill="#440154" fill-opacity="0.92"/><path d="M70.30000000000001,156 L64.9,163.5 V163.5 H80.9 V163.5 L75.5,156 Z" fill="url(#bs)"/><circle cx="72.9" cy="152.4" r="2.8" fill="#3d0a55"/><rect x="70.5" y="153" width="4.8" height="10.5" fill="#42085a"/></g></g>
<text x="270.10" y="252.00" font-size="9.8" fill="#f0865a" text-anchor="start" font-weight="bold" >x</text>
<text x="281.00" y="252.00" font-size="9.8" fill="#f0865a" text-anchor="start" font-weight="bold" >(111)<tspan dy="1.96" font-size="5.88">O</tspan><tspan dy="-1.96" dx="0.4" font-size="0.98">&#8203;</tspan>/(011)<tspan dy="1.96" font-size="5.88">T</tspan><tspan dy="-1.96" dx="0.4" font-size="0.98">&#8203;</tspan></text>
<text x="270.10" y="265.40" font-size="9.8" fill="#4fd1ae" text-anchor="start" font-weight="bold" >x</text>
<text x="281.00" y="265.40" font-size="9.8" fill="#4fd1ae" text-anchor="start" font-weight="bold" >{002}<tspan dy="1.96" font-size="5.88">O</tspan><tspan dy="-1.96" dx="0.4" font-size="0.98">&#8203;</tspan>/(110)<tspan dy="1.96" font-size="5.88">T</tspan><tspan dy="-1.96" dx="0.4" font-size="0.98">&#8203;</tspan>/(002)<tspan dy="1.96" font-size="5.88">T</tspan><tspan dy="-1.96" dx="0.4" font-size="0.98">&#8203;</tspan></text>
<line x1="338.2" y1="384.3" x2="338.2" y2="338.2" stroke="#fff" stroke-width="1.7"/>
<polygon points="337.9,332.2 333.9,339.7 341.9,339.7" fill="#fff"/>
<text x="344.9" y="341.7" font-size="9.9" font-weight="bold" fill="#fff"><tspan font-style="italic" font-family="Liberation Serif" font-size="11">γ</tspan> = 90°</text>
<text x="338.40" y="305.10" font-size="9" fill="#58d4b4" text-anchor="middle" font-weight="bold" >x</text>
<text x="338.40" y="317.80" font-size="9" fill="#ee7048" text-anchor="middle" font-weight="bold" >x</text>
<text x="489.50" y="232.00" font-size="9.5" fill="#000" text-anchor="start" font-weight="bold" >d</text>
<text x="594.40" y="234.20" font-size="9.5" fill="#000" text-anchor="middle" font-weight="bold" >On TiN (110)</text>
<g transform="translate(509.5,239)"><g clip-path="url(#cd)"><rect x="0" y="0" width="167.5" height="163.5" fill="#440154"/><g transform="translate(72.7,153) scale(1.0,1)"><circle cx="0" cy="0" r="125" fill="url(#gd)"/></g><ellipse cx="171" cy="128" rx="21" ry="38" fill="#440154" fill-opacity="0.9" filter="url(#blur40)"/><ellipse cx="0" cy="150" rx="8" ry="18" fill="#45256f" fill-opacity="0.5" filter="url(#blur30)"/><ellipse cx="72.7" cy="154" rx="62.0" ry="4" fill="url(#wd)" filter="url(#blur15)"/><g transform="translate(72.7,153) scale(1.0,1)"><circle cx="0" cy="0" r="35" fill="url(#kd)"/></g><g filter="url(#blur5)"><path d="M177.37,138.29 A105.7,105.7 0 0 0 -31.97,138.29" fill="none" stroke="#4ac16d" stroke-width="3.2" stroke-opacity="1" stroke-linecap="butt"/><path d="M156.27,104.75 A96.5,96.5 0 0 0 -10.87,104.75" fill="none" stroke="#414487" stroke-width="1.0" stroke-opacity="0.9" stroke-linecap="butt"/><path d="M142.85,112.50 A81,81 0 0 0 2.55,112.50" fill="none" stroke="#3e4989" stroke-width="0.8" stroke-opacity="0.8" stroke-linecap="butt"/></g><g filter="url(#blur10)"><path d="M87.42,161.50 A17,17.0 0 1 0 57.98,161.50" fill="none" stroke="#7ad151" stroke-width="1.8" stroke-opacity="0.8"/></g><g filter="url(#blur10)"><rect x="-5" y="155.5" width="69.7" height="10.5" fill="#22a884" fill-opacity="0.7"/><rect x="80.7" y="155.5" width="91.8" height="10.5" fill="#22a884" fill-opacity="0.7"/></g><ellipse cx="0" cy="165.5" rx="26.0" ry="10.0" fill="url(#fd)"/><ellipse cx="167.5" cy="165.5" rx="24.0" ry="12.0" fill="url(#fd)"/><rect x="0" y="67.95" width="167.5" height="1.9" fill="#440154" fill-opacity="0.95"/><rect x="0" y="93.65" width="167.5" height="1.9" fill="#440154" fill-opacity="0.95"/><rect x="0" y="117.95" width="167.5" height="1.9" fill="#440154" fill-opacity="0.95"/><rect x="0" y="143.55" width="167.5" height="1.9" fill="#440154" fill-opacity="0.95"/><rect x="54.55" y="31.0" width="1.3" height="163.5" fill="#440154" fill-opacity="0.92"/><rect x="111.75" y="31.0" width="1.3" height="163.5" fill="#440154" fill-opacity="0.92"/><path d="M70.10000000000001,155 L64.7,161 V163.5 H80.7 V161 L75.3,155 Z" fill="#440b5c"/><circle cx="72.7" cy="153" r="3.6" fill="none" stroke="#e4e419" stroke-width="0.8" opacity="0.8"/><circle cx="72.7" cy="153" r="3.0" fill="#3d0a55"/></g></g>
<text x="514.20" y="252.00" font-size="9.8" fill="#f0865a" text-anchor="start" font-weight="bold" >x</text>
<text x="524.30" y="252.00" font-size="9.8" fill="#f0865a" text-anchor="start" font-weight="bold" >(111)<tspan dy="1.96" font-size="5.88">O</tspan><tspan dy="-1.96" dx="0.4" font-size="0.98">&#8203;</tspan>/(011)<tspan dy="1.96" font-size="5.88">T</tspan><tspan dy="-1.96" dx="0.4" font-size="0.98">&#8203;</tspan></text>
<text x="514.20" y="265.40" font-size="9.8" fill="#4fd1ae" text-anchor="start" font-weight="bold" >x</text>
<text x="524.30" y="265.40" font-size="9.8" fill="#4fd1ae" text-anchor="start" font-weight="bold" >{002}<tspan dy="1.96" font-size="5.88">O</tspan><tspan dy="-1.96" dx="0.4" font-size="0.98">&#8203;</tspan>/(110)<tspan dy="1.96" font-size="5.88">T</tspan><tspan dy="-1.96" dx="0.4" font-size="0.98">&#8203;</tspan>/(002)<tspan dy="1.96" font-size="5.88">T</tspan><tspan dy="-1.96" dx="0.4" font-size="0.98">&#8203;</tspan></text>
<line x1="582.0999999999999" y1="384.3" x2="582.0999999999999" y2="338.2" stroke="#fff" stroke-width="1.7"/>
<polygon points="581.8,332.2 577.8,339.7 585.8,339.7" fill="#fff"/>
<text x="589.9" y="341.7" font-size="9.9" font-weight="bold" fill="#fff"><tspan font-style="italic" font-family="Liberation Serif" font-size="11">γ</tspan> = 90°</text>
<text x="582.30" y="305.10" font-size="9" fill="#58d4b4" text-anchor="middle" font-weight="bold" >x</text>
<text x="582.30" y="320.00" font-size="9" fill="#ee7048" text-anchor="middle" font-weight="bold" >x</text>
<text x="1.20" y="412.20" font-size="9.5" fill="#000" text-anchor="start" font-weight="bold" >e</text>
<rect x="18.5" y="417.6" width="167.8" height="134.0" fill="#fff" stroke="#000" stroke-width="1.5"/>
<polyline points="30.4,464.6 36.5,461.1 43.8,457.6 49.6,459.0 55.5,459.9 61.3,460.5 66.6,458.4 72.4,455.8 78.2,453.8 84.1,451.7 90.5,449.7 96.4,448.8 102.2,448.8 108.6,449.1 114.5,450.3 120.3,451.1 126.1,452.3 132.0,453.5 135.8,455.2 138.7,454.6 144.5,454.1 150.4,453.5 156.2,452.6 162.0,452.3 166.4,454.1 169.3,456.4 171.7,458.4 172.8,460.5" fill="none" stroke="#ee7a52" stroke-width="1.9" stroke-linejoin="round"/>
<g fill="#ee7a52"><rect x="28.9" y="463.1" width="2.9" height="2.9"/><rect x="35.0" y="459.6" width="2.9" height="2.9"/><rect x="42.3" y="456.1" width="2.9" height="2.9"/><rect x="48.2" y="457.6" width="2.9" height="2.9"/><rect x="54.0" y="458.4" width="2.9" height="2.9"/><rect x="59.9" y="459.0" width="2.9" height="2.9"/><rect x="65.1" y="457.0" width="2.9" height="2.9"/><rect x="71.0" y="454.4" width="2.9" height="2.9"/><rect x="76.8" y="452.3" width="2.9" height="2.9"/><rect x="82.6" y="450.3" width="2.9" height="2.9"/><rect x="89.1" y="448.2" width="2.9" height="2.9"/><rect x="94.9" y="447.3" width="2.9" height="2.9"/><rect x="100.7" y="447.3" width="2.9" height="2.9"/><rect x="107.2" y="447.6" width="2.9" height="2.9"/><rect x="113.0" y="448.8" width="2.9" height="2.9"/><rect x="118.8" y="449.7" width="2.9" height="2.9"/><rect x="124.7" y="450.8" width="2.9" height="2.9"/><rect x="130.5" y="452.0" width="2.9" height="2.9"/><rect x="134.3" y="453.8" width="2.9" height="2.9"/><rect x="137.2" y="453.2" width="2.9" height="2.9"/><rect x="143.1" y="452.6" width="2.9" height="2.9"/><rect x="148.9" y="452.0" width="2.9" height="2.9"/><rect x="154.8" y="451.1" width="2.9" height="2.9"/><rect x="160.6" y="450.8" width="2.9" height="2.9"/><rect x="165.0" y="452.6" width="2.9" height="2.9"/><rect x="167.9" y="454.9" width="2.9" height="2.9"/><rect x="170.2" y="457.0" width="2.9" height="2.9"/><rect x="171.4" y="459.0" width="2.9" height="2.9"/></g>
<polyline points="30.4,547.2 36.5,545.1 42.6,539.9 48.5,537.8 54.3,534.9 60.1,530.5 66.6,526.2 72.4,521.2 78.2,516.5 84.1,511.6 89.9,510.1 96.4,506.3 102.2,505.4 108.6,506.9 114.5,508.4 120.3,511.6 126.1,515.9 132.0,521.8 137.8,524.1 144.2,527.6 150.1,531.1 156.2,534.1 162.0,538.1 168.2,541.9 174.0,540.2" fill="none" stroke="#52d3a7" stroke-width="1.9" stroke-linejoin="round"/>
<g fill="#52d3a7"><rect x="28.9" y="545.7" width="2.9" height="2.9"/><rect x="35.0" y="543.7" width="2.9" height="2.9"/><rect x="41.2" y="538.4" width="2.9" height="2.9"/><rect x="47.0" y="536.4" width="2.9" height="2.9"/><rect x="52.9" y="533.5" width="2.9" height="2.9"/><rect x="58.7" y="529.1" width="2.9" height="2.9"/><rect x="65.1" y="524.7" width="2.9" height="2.9"/><rect x="71.0" y="519.8" width="2.9" height="2.9"/><rect x="76.8" y="515.1" width="2.9" height="2.9"/><rect x="82.6" y="510.1" width="2.9" height="2.9"/><rect x="88.5" y="508.7" width="2.9" height="2.9"/><rect x="94.9" y="504.9" width="2.9" height="2.9"/><rect x="100.7" y="504.0" width="2.9" height="2.9"/><rect x="107.2" y="505.4" width="2.9" height="2.9"/><rect x="113.0" y="506.9" width="2.9" height="2.9"/><rect x="118.8" y="510.1" width="2.9" height="2.9"/><rect x="124.7" y="514.5" width="2.9" height="2.9"/><rect x="130.5" y="520.3" width="2.9" height="2.9"/><rect x="136.4" y="522.7" width="2.9" height="2.9"/><rect x="142.8" y="526.2" width="2.9" height="2.9"/><rect x="148.6" y="529.7" width="2.9" height="2.9"/><rect x="154.8" y="532.6" width="2.9" height="2.9"/><rect x="160.6" y="536.7" width="2.9" height="2.9"/><rect x="166.7" y="540.5" width="2.9" height="2.9"/><rect x="172.6" y="538.7" width="2.9" height="2.9"/></g>
<text x="18.50" y="562.00" font-size="8.4" fill="#000" text-anchor="middle" font-weight="bold" >20</text>
<text x="42.47" y="562.00" font-size="8.4" fill="#000" text-anchor="middle" font-weight="bold" >40</text>
<line x1="42.5" y1="551.6" x2="42.5" y2="549.4" stroke="#000" stroke-width="1.2"/>
<text x="66.44" y="562.00" font-size="8.4" fill="#000" text-anchor="middle" font-weight="bold" >60</text>
<line x1="66.4" y1="551.6" x2="66.4" y2="549.4" stroke="#000" stroke-width="1.2"/>
<text x="90.41" y="562.00" font-size="8.4" fill="#000" text-anchor="middle" font-weight="bold" >80</text>
<line x1="90.4" y1="551.6" x2="90.4" y2="549.4" stroke="#000" stroke-width="1.2"/>
<text x="114.39" y="562.00" font-size="8.4" fill="#000" text-anchor="middle" font-weight="bold" >100</text>
<line x1="114.4" y1="551.6" x2="114.4" y2="549.4" stroke="#000" stroke-width="1.2"/>
<text x="138.36" y="562.00" font-size="8.4" fill="#000" text-anchor="middle" font-weight="bold" >120</text>
<line x1="138.4" y1="551.6" x2="138.4" y2="549.4" stroke="#000" stroke-width="1.2"/>
<text x="162.33" y="562.00" font-size="8.4" fill="#000" text-anchor="middle" font-weight="bold" >140</text>
<line x1="162.3" y1="551.6" x2="162.3" y2="549.4" stroke="#000" stroke-width="1.2"/>
<text x="186.30" y="562.00" font-size="8.4" fill="#000" text-anchor="middle" font-weight="bold" >160</text>
<text x="102.1" y="575.3" font-size="11" font-weight="bold" text-anchor="middle" textLength="126" lengthAdjust="spacingAndGlyphs">Azimuth angle (degree)</text>
<text transform="translate(11.6,481) rotate(-90)" font-size="11" font-weight="bold" text-anchor="middle" textLength="104" lengthAdjust="spacingAndGlyphs">Intensity (arb.units)</text>
<line x1="21.7" y1="427.5" x2="42.4" y2="427.5" stroke="#ee7a52" stroke-width="2"/>
<rect x="30.6" y="426.1" width="2.9" height="2.9" fill="#ee7a52"/>
<text x="45.10" y="430.90" font-size="9.25" fill="#ee7a52" text-anchor="start" font-weight="bold" >(111)<tspan dy="1.85" font-size="5.55">O</tspan><tspan dy="-1.85" dx="0.4" font-size="0.93">&#8203;</tspan>/(011)<tspan dy="1.85" font-size="5.55">T</tspan><tspan dy="-1.85" dx="0.4" font-size="0.93">&#8203;</tspan></text>
<line x1="21.7" y1="440.8" x2="42.4" y2="440.8" stroke="#52d3a7" stroke-width="2"/>
<rect x="30.6" y="439.4" width="2.9" height="2.9" fill="#52d3a7"/>
<text x="45.10" y="444.20" font-size="9.25" fill="#52d3a7" text-anchor="start" font-weight="bold" >{002}<tspan dy="1.85" font-size="5.55">O</tspan><tspan dy="-1.85" dx="0.4" font-size="0.93">&#8203;</tspan>/(110)<tspan dy="1.85" font-size="5.55">T</tspan><tspan dy="-1.85" dx="0.4" font-size="0.93">&#8203;</tspan>/(002)<tspan dy="1.85" font-size="5.55">T</tspan><tspan dy="-1.85" dx="0.4" font-size="0.93">&#8203;</tspan></text>
<line x1="42.6" y1="478.0" x2="42.6" y2="466.9" stroke="#ee7a52" stroke-width="1.3"/>
<polygon points="42.6,461.9 38.4,469.9 46.8,469.9" fill="#ee7a52"/>
<text x="45.3" y="490.3" font-size="10" font-weight="bold" fill="#ee7a52" text-anchor="middle"><tspan font-style="italic" font-family="Liberation Serif" font-size="11.5">γ</tspan> ~ 35°</text>
<line x1="159.1" y1="474.5" x2="159.1" y2="462.6" stroke="#ee7a52" stroke-width="1.3"/>
<polygon points="159.1,457.6 154.9,465.6 163.3,465.6" fill="#ee7a52"/>
<text x="158.8" y="490.3" font-size="10" font-weight="bold" fill="#ee7a52" text-anchor="middle"><tspan font-style="italic" font-family="Liberation Serif" font-size="11.5">γ</tspan> ~ 145°</text>
<line x1="102.2" y1="527.0" x2="102.2" y2="515.7" stroke="#52d3a7" stroke-width="1.3"/>
<polygon points="102.2,510.7 98.0,518.7 106.4,518.7" fill="#52d3a7"/>
<text x="105.7" y="541.7" font-size="10" font-weight="bold" fill="#52d3a7" text-anchor="middle"><tspan font-style="italic" font-family="Liberation Serif" font-size="11.5">γ</tspan> ~ 90°</text>
<text x="248.30" y="412.20" font-size="9.5" fill="#000" text-anchor="start" font-weight="bold" >f</text>
<rect x="265.4" y="417" width="167.90000000000003" height="134.29999999999995" fill="#fff" stroke="#000" stroke-width="1.5"/>
<polyline points="277.7,461.1 280.0,456.1 283.0,450.3 285.3,448.8 287.6,450.3 290.3,455.2 292.6,458.1 295.2,459.6 301.1,458.1 306.9,456.4 313.3,454.9 319.5,452.6 325.3,451.7 331.4,449.7 337.3,449.4 343.7,450.0 349.5,447.9 355.4,449.4 361.8,448.8 367.6,448.8 373.5,452.3 379.3,452.6 385.1,453.2 391.0,451.7 397.4,454.6 403.2,451.1 407.0,448.2 409.4,445.3 412.0,443.0 414.3,445.9 416.7,451.7 419.0,458.1 420.8,463.4" fill="none" stroke="#ee7a52" stroke-width="1.9" stroke-linejoin="round"/>
<g fill="#ee7a52"><rect x="276.3" y="459.6" width="2.9" height="2.9"/><rect x="278.6" y="454.6" width="2.9" height="2.9"/><rect x="281.5" y="448.8" width="2.9" height="2.9"/><rect x="283.8" y="447.3" width="2.9" height="2.9"/><rect x="286.2" y="448.8" width="2.9" height="2.9"/><rect x="288.8" y="453.8" width="2.9" height="2.9"/><rect x="291.1" y="456.7" width="2.9" height="2.9"/><rect x="293.8" y="458.1" width="2.9" height="2.9"/><rect x="299.6" y="456.7" width="2.9" height="2.9"/><rect x="305.4" y="454.9" width="2.9" height="2.9"/><rect x="311.9" y="453.5" width="2.9" height="2.9"/><rect x="318.0" y="451.1" width="2.9" height="2.9"/><rect x="323.8" y="450.3" width="2.9" height="2.9"/><rect x="330.0" y="448.2" width="2.9" height="2.9"/><rect x="335.8" y="447.9" width="2.9" height="2.9"/><rect x="342.2" y="448.5" width="2.9" height="2.9"/><rect x="348.1" y="446.5" width="2.9" height="2.9"/><rect x="353.9" y="447.9" width="2.9" height="2.9"/><rect x="360.3" y="447.3" width="2.9" height="2.9"/><rect x="366.2" y="447.3" width="2.9" height="2.9"/><rect x="372.0" y="450.8" width="2.9" height="2.9"/><rect x="377.9" y="451.1" width="2.9" height="2.9"/><rect x="383.7" y="451.7" width="2.9" height="2.9"/><rect x="389.5" y="450.3" width="2.9" height="2.9"/><rect x="396.0" y="453.2" width="2.9" height="2.9"/><rect x="401.8" y="449.7" width="2.9" height="2.9"/><rect x="405.6" y="446.8" width="2.9" height="2.9"/><rect x="407.9" y="443.8" width="2.9" height="2.9"/><rect x="410.6" y="441.5" width="2.9" height="2.9"/><rect x="412.9" y="444.4" width="2.9" height="2.9"/><rect x="415.2" y="450.3" width="2.9" height="2.9"/><rect x="417.6" y="456.7" width="2.9" height="2.9"/><rect x="419.3" y="461.9" width="2.9" height="2.9"/></g>
<polyline points="277.7,543.4 283.5,538.7 289.4,532.6 295.2,529.7 301.1,526.8 306.9,523.0 313.3,518.9 319.5,515.9 325.3,513.3 331.4,511.6 337.3,511.9 343.7,510.1 349.5,511.3 355.4,513.0 361.8,513.9 367.6,512.4 373.5,515.9 379.3,519.7 385.1,520.9 391.0,523.0 397.4,525.0 403.2,525.9 409.4,531.4 415.5,537.3 420.8,538.1" fill="none" stroke="#52d3a7" stroke-width="1.9" stroke-linejoin="round"/>
<g fill="#52d3a7"><rect x="276.3" y="541.9" width="2.9" height="2.9"/><rect x="282.1" y="537.3" width="2.9" height="2.9"/><rect x="287.9" y="531.1" width="2.9" height="2.9"/><rect x="293.8" y="528.2" width="2.9" height="2.9"/><rect x="299.6" y="525.3" width="2.9" height="2.9"/><rect x="305.4" y="521.5" width="2.9" height="2.9"/><rect x="311.9" y="517.4" width="2.9" height="2.9"/><rect x="318.0" y="514.5" width="2.9" height="2.9"/><rect x="323.8" y="511.9" width="2.9" height="2.9"/><rect x="330.0" y="510.1" width="2.9" height="2.9"/><rect x="335.8" y="510.4" width="2.9" height="2.9"/><rect x="342.2" y="508.7" width="2.9" height="2.9"/><rect x="348.1" y="509.8" width="2.9" height="2.9"/><rect x="353.9" y="511.6" width="2.9" height="2.9"/><rect x="360.3" y="512.5" width="2.9" height="2.9"/><rect x="366.2" y="511.0" width="2.9" height="2.9"/><rect x="372.0" y="514.5" width="2.9" height="2.9"/><rect x="377.9" y="518.3" width="2.9" height="2.9"/><rect x="383.7" y="519.5" width="2.9" height="2.9"/><rect x="389.5" y="521.5" width="2.9" height="2.9"/><rect x="396.0" y="523.5" width="2.9" height="2.9"/><rect x="401.8" y="524.4" width="2.9" height="2.9"/><rect x="407.9" y="530.0" width="2.9" height="2.9"/><rect x="414.1" y="535.8" width="2.9" height="2.9"/><rect x="419.3" y="536.7" width="2.9" height="2.9"/></g>
<text x="265.40" y="562.00" font-size="8.4" fill="#000" text-anchor="middle" font-weight="bold" >20</text>
<text x="289.39" y="562.00" font-size="8.4" fill="#000" text-anchor="middle" font-weight="bold" >40</text>
<line x1="289.4" y1="551.3" x2="289.4" y2="549.0999999999999" stroke="#000" stroke-width="1.2"/>
<text x="313.37" y="562.00" font-size="8.4" fill="#000" text-anchor="middle" font-weight="bold" >60</text>
<line x1="313.4" y1="551.3" x2="313.4" y2="549.0999999999999" stroke="#000" stroke-width="1.2"/>
<text x="337.36" y="562.00" font-size="8.4" fill="#000" text-anchor="middle" font-weight="bold" >80</text>
<line x1="337.4" y1="551.3" x2="337.4" y2="549.0999999999999" stroke="#000" stroke-width="1.2"/>
<text x="361.34" y="562.00" font-size="8.4" fill="#000" text-anchor="middle" font-weight="bold" >100</text>
<line x1="361.3" y1="551.3" x2="361.3" y2="549.0999999999999" stroke="#000" stroke-width="1.2"/>
<text x="385.33" y="562.00" font-size="8.4" fill="#000" text-anchor="middle" font-weight="bold" >120</text>
<line x1="385.3" y1="551.3" x2="385.3" y2="549.0999999999999" stroke="#000" stroke-width="1.2"/>
<text x="409.31" y="562.00" font-size="8.4" fill="#000" text-anchor="middle" font-weight="bold" >140</text>
<line x1="409.3" y1="551.3" x2="409.3" y2="549.0999999999999" stroke="#000" stroke-width="1.2"/>
<text x="433.30" y="562.00" font-size="8.4" fill="#000" text-anchor="middle" font-weight="bold" >160</text>
<text x="349.1" y="575.3" font-size="11" font-weight="bold" text-anchor="middle" textLength="126" lengthAdjust="spacingAndGlyphs">Azimuth angle (degree)</text>
<text transform="translate(257.8,481) rotate(-90)" font-size="11" font-weight="bold" text-anchor="middle" textLength="104" lengthAdjust="spacingAndGlyphs">Intensity (arb.units)</text>
<line x1="268.5" y1="426.6" x2="289.6" y2="426.6" stroke="#ee7a52" stroke-width="2"/>
<rect x="277.6" y="425.2" width="2.9" height="2.9" fill="#ee7a52"/>
<text x="291.80" y="430.00" font-size="9.25" fill="#ee7a52" text-anchor="start" font-weight="bold" >(111)<tspan dy="1.85" font-size="5.55">O</tspan><tspan dy="-1.85" dx="0.4" font-size="0.93">&#8203;</tspan>/(011)<tspan dy="1.85" font-size="5.55">T</tspan><tspan dy="-1.85" dx="0.4" font-size="0.93">&#8203;</tspan></text>
<line x1="268.5" y1="440.2" x2="289.6" y2="440.2" stroke="#52d3a7" stroke-width="2"/>
<rect x="277.6" y="438.8" width="2.9" height="2.9" fill="#52d3a7"/>
<text x="291.80" y="443.60" font-size="9.25" fill="#52d3a7" text-anchor="start" font-weight="bold" >{002}<tspan dy="1.85" font-size="5.55">O</tspan><tspan dy="-1.85" dx="0.4" font-size="0.93">&#8203;</tspan>/(110)<tspan dy="1.85" font-size="5.55">T</tspan><tspan dy="-1.85" dx="0.4" font-size="0.93">&#8203;</tspan>/(002)<tspan dy="1.85" font-size="5.55">T</tspan><tspan dy="-1.85" dx="0.4" font-size="0.93">&#8203;</tspan></text>
<line x1="285.9" y1="474.5" x2="285.9" y2="463.4" stroke="#ee7a52" stroke-width="1.3"/>
<polygon points="285.9,458.4 281.7,466.4 290.1,466.4" fill="#ee7a52"/>
<text x="289.4" y="488.9" font-size="10" font-weight="bold" fill="#ee7a52" text-anchor="middle"><tspan font-style="italic" font-family="Liberation Serif" font-size="11.5">γ</tspan> ~ 35°</text>
<line x1="410.0" y1="473.6" x2="410.0" y2="462.6" stroke="#ee7a52" stroke-width="1.3"/>
<polygon points="410.0,457.6 405.8,465.6 414.2,465.6" fill="#ee7a52"/>
<text x="405.0" y="488.9" font-size="10" font-weight="bold" fill="#ee7a52" text-anchor="middle"><tspan font-style="italic" font-family="Liberation Serif" font-size="11.5">γ</tspan> ~ 145°</text>
<line x1="349.2" y1="532.3" x2="349.2" y2="522.4" stroke="#52d3a7" stroke-width="1.3"/>
<polygon points="349.2,517.4 345.0,525.4 353.4,525.4" fill="#52d3a7"/>
<text x="352.2" y="542.3" font-size="10" font-weight="bold" fill="#52d3a7" text-anchor="middle"><tspan font-style="italic" font-family="Liberation Serif" font-size="11.5">γ</tspan> ~ 90°</text>
<text x="489.30" y="412.20" font-size="9.5" fill="#000" text-anchor="start" font-weight="bold" >g</text>
<rect x="509.8" y="417.3" width="167.90000000000003" height="133.99999999999994" fill="#fff" stroke="#000" stroke-width="1.5"/>
<polyline points="523.0,466.3 525.3,463.4 528.8,460.5 532.3,458.1 536.1,457.0 540.5,454.1 544.9,451.7 550.7,450.3 557.4,448.2 560.3,447.3 564.4,449.1 569.7,449.7 575.5,451.7 581.4,454.6 586.6,457.0 590.1,458.7 593.0,457.0 598.9,454.6 605.3,451.7 611.1,449.4 617.0,447.6 622.8,446.5 629.5,445.9 632.4,445.3 636.2,447.3 641.2,448.8 647.0,451.7 652.9,454.6 656.7,457.6 660.2,460.5 662.5,462.8 664.3,464.9" fill="none" stroke="#ee7a52" stroke-width="1.9" stroke-linejoin="round"/>
<g fill="#ee7a52"><rect x="521.5" y="464.9" width="2.9" height="2.9"/><rect x="523.8" y="461.9" width="2.9" height="2.9"/><rect x="527.3" y="459.0" width="2.9" height="2.9"/><rect x="530.8" y="456.7" width="2.9" height="2.9"/><rect x="534.6" y="455.5" width="2.9" height="2.9"/><rect x="539.0" y="452.6" width="2.9" height="2.9"/><rect x="543.4" y="450.3" width="2.9" height="2.9"/><rect x="549.2" y="448.8" width="2.9" height="2.9"/><rect x="556.0" y="446.8" width="2.9" height="2.9"/><rect x="558.9" y="445.9" width="2.9" height="2.9"/><rect x="563.0" y="447.6" width="2.9" height="2.9"/><rect x="568.2" y="448.2" width="2.9" height="2.9"/><rect x="574.1" y="450.3" width="2.9" height="2.9"/><rect x="579.9" y="453.2" width="2.9" height="2.9"/><rect x="585.2" y="455.5" width="2.9" height="2.9"/><rect x="588.7" y="457.3" width="2.9" height="2.9"/><rect x="591.6" y="455.5" width="2.9" height="2.9"/><rect x="597.4" y="453.2" width="2.9" height="2.9"/><rect x="603.8" y="450.3" width="2.9" height="2.9"/><rect x="609.7" y="447.9" width="2.9" height="2.9"/><rect x="615.5" y="446.2" width="2.9" height="2.9"/><rect x="621.4" y="445.0" width="2.9" height="2.9"/><rect x="628.1" y="444.4" width="2.9" height="2.9"/><rect x="631.0" y="443.8" width="2.9" height="2.9"/><rect x="634.8" y="445.9" width="2.9" height="2.9"/><rect x="639.8" y="447.3" width="2.9" height="2.9"/><rect x="645.6" y="450.3" width="2.9" height="2.9"/><rect x="651.4" y="453.2" width="2.9" height="2.9"/><rect x="655.2" y="456.1" width="2.9" height="2.9"/><rect x="658.7" y="459.0" width="2.9" height="2.9"/><rect x="661.1" y="461.4" width="2.9" height="2.9"/><rect x="662.8" y="463.4" width="2.9" height="2.9"/></g>
<polyline points="521.5,546.6 527.3,545.1 533.8,539.9 539.6,537.0 545.4,533.5 551.6,529.1 557.4,525.3 563.2,521.8 569.7,520.3 575.5,518.3 581.4,519.7 587.2,520.3 593.6,520.3 599.5,520.0 605.3,519.2 611.1,519.5 617.0,520.3 622.8,523.2 629.5,526.2 635.4,528.2 641.2,530.5 647.0,533.5 653.5,539.9 659.3,544.3 665.1,542.8" fill="none" stroke="#52d3a7" stroke-width="1.9" stroke-linejoin="round"/>
<g fill="#52d3a7"><rect x="520.0" y="545.2" width="2.9" height="2.9"/><rect x="525.9" y="543.7" width="2.9" height="2.9"/><rect x="532.3" y="538.4" width="2.9" height="2.9"/><rect x="538.1" y="535.5" width="2.9" height="2.9"/><rect x="544.0" y="532.0" width="2.9" height="2.9"/><rect x="550.1" y="527.6" width="2.9" height="2.9"/><rect x="556.0" y="523.8" width="2.9" height="2.9"/><rect x="561.8" y="520.3" width="2.9" height="2.9"/><rect x="568.2" y="518.9" width="2.9" height="2.9"/><rect x="574.1" y="516.8" width="2.9" height="2.9"/><rect x="579.9" y="518.3" width="2.9" height="2.9"/><rect x="585.7" y="518.9" width="2.9" height="2.9"/><rect x="592.2" y="518.9" width="2.9" height="2.9"/><rect x="598.0" y="518.6" width="2.9" height="2.9"/><rect x="603.8" y="517.7" width="2.9" height="2.9"/><rect x="609.7" y="518.0" width="2.9" height="2.9"/><rect x="615.5" y="518.9" width="2.9" height="2.9"/><rect x="621.4" y="521.8" width="2.9" height="2.9"/><rect x="628.1" y="524.7" width="2.9" height="2.9"/><rect x="633.9" y="526.8" width="2.9" height="2.9"/><rect x="639.8" y="529.1" width="2.9" height="2.9"/><rect x="645.6" y="532.0" width="2.9" height="2.9"/><rect x="652.0" y="538.4" width="2.9" height="2.9"/><rect x="657.9" y="542.8" width="2.9" height="2.9"/><rect x="663.7" y="541.4" width="2.9" height="2.9"/></g>
<text x="509.80" y="562.00" font-size="8.4" fill="#000" text-anchor="middle" font-weight="bold" >20</text>
<text x="533.79" y="562.00" font-size="8.4" fill="#000" text-anchor="middle" font-weight="bold" >40</text>
<line x1="533.8" y1="551.3" x2="533.8" y2="549.0999999999999" stroke="#000" stroke-width="1.2"/>
<text x="557.77" y="562.00" font-size="8.4" fill="#000" text-anchor="middle" font-weight="bold" >60</text>
<line x1="557.8" y1="551.3" x2="557.8" y2="549.0999999999999" stroke="#000" stroke-width="1.2"/>
<text x="581.76" y="562.00" font-size="8.4" fill="#000" text-anchor="middle" font-weight="bold" >80</text>
<line x1="581.8" y1="551.3" x2="581.8" y2="549.0999999999999" stroke="#000" stroke-width="1.2"/>
<text x="605.74" y="562.00" font-size="8.4" fill="#000" text-anchor="middle" font-weight="bold" >100</text>
<line x1="605.7" y1="551.3" x2="605.7" y2="549.0999999999999" stroke="#000" stroke-width="1.2"/>
<text x="629.73" y="562.00" font-size="8.4" fill="#000" text-anchor="middle" font-weight="bold" >120</text>
<line x1="629.7" y1="551.3" x2="629.7" y2="549.0999999999999" stroke="#000" stroke-width="1.2"/>
<text x="653.71" y="562.00" font-size="8.4" fill="#000" text-anchor="middle" font-weight="bold" >140</text>
<line x1="653.7" y1="551.3" x2="653.7" y2="549.0999999999999" stroke="#000" stroke-width="1.2"/>
<text x="677.70" y="562.00" font-size="8.4" fill="#000" text-anchor="middle" font-weight="bold" >160</text>
<text x="593.5" y="575.3" font-size="11" font-weight="bold" text-anchor="middle" textLength="126" lengthAdjust="spacingAndGlyphs">Azimuth angle (degree)</text>
<text transform="translate(502.5,479.3) rotate(-90)" font-size="11" font-weight="bold" text-anchor="middle" textLength="108" lengthAdjust="spacingAndGlyphs">Intensity (arb. units)</text>
<line x1="513" y1="427.5" x2="533.8" y2="427.5" stroke="#ee7a52" stroke-width="2"/>
<rect x="521.9" y="426.1" width="2.9" height="2.9" fill="#ee7a52"/>
<text x="536.00" y="430.90" font-size="9.25" fill="#ee7a52" text-anchor="start" font-weight="bold" >(111)<tspan dy="1.85" font-size="5.55">O</tspan><tspan dy="-1.85" dx="0.4" font-size="0.93">&#8203;</tspan>/(011)<tspan dy="1.85" font-size="5.55">T</tspan><tspan dy="-1.85" dx="0.4" font-size="0.93">&#8203;</tspan></text>
<line x1="513" y1="441.3" x2="533.8" y2="441.3" stroke="#52d3a7" stroke-width="2"/>
<rect x="521.9" y="439.9" width="2.9" height="2.9" fill="#52d3a7"/>
<text x="536.00" y="444.70" font-size="9.25" fill="#52d3a7" text-anchor="start" font-weight="bold" >{002}<tspan dy="1.85" font-size="5.55">O</tspan><tspan dy="-1.85" dx="0.4" font-size="0.93">&#8203;</tspan>/(110)<tspan dy="1.85" font-size="5.55">T</tspan><tspan dy="-1.85" dx="0.4" font-size="0.93">&#8203;</tspan>/(002)<tspan dy="1.85" font-size="5.55">T</tspan><tspan dy="-1.85" dx="0.4" font-size="0.93">&#8203;</tspan></text>
<line x1="556.5" y1="475.1" x2="556.5" y2="464.6" stroke="#ee7a52" stroke-width="1.3"/>
<polygon points="556.5,459.6 552.3,467.6 560.7,467.6" fill="#ee7a52"/>
<text x="558.6" y="487.4" font-size="10" font-weight="bold" fill="#ee7a52" text-anchor="middle"><tspan font-style="italic" font-family="Liberation Serif" font-size="11.5">γ</tspan> ~ 55°</text>
<line x1="630.1" y1="475.1" x2="630.1" y2="464.6" stroke="#ee7a52" stroke-width="1.3"/>
<polygon points="630.1,459.6 625.9,467.6 634.3,467.6" fill="#ee7a52"/>
<text x="639.7" y="486.8" font-size="10" font-weight="bold" fill="#ee7a52" text-anchor="middle"><tspan font-style="italic" font-family="Liberation Serif" font-size="11.5">γ</tspan> ~ 125°</text>
<polygon points="6.4,630 32.800000000000004,605.4 185.4,605.4 185.4,652.4 159,677 6.4,677" fill="#b9d6ce"/><polygon points="6.4,630 32.800000000000004,605.4 185.4,605.4 159,630" fill="#c3dbd5"/><polygon points="159,630 185.4,605.4 185.4,652.4 159,677" fill="url(#boxr)"/>
<polygon points="59.14,641.92 82.50,638.41 123.38,644.84 101.48,651.26" fill="#6fa9c5" stroke="#1f3b36" stroke-width="1.0" stroke-linejoin="round"/><polygon points="58.89,638.52 82.25,635.01 123.13,641.44 101.23,647.86" fill="#6fa9c5" stroke="#1f3b36" stroke-width="1.0" stroke-linejoin="round"/><polygon points="58.64,635.12 82.00,631.61 122.88,638.04 100.98,644.46" fill="#6fa9c5" stroke="#1f3b36" stroke-width="1.0" stroke-linejoin="round"/><polygon points="58.39,631.72 81.75,628.21 122.63,634.64 100.73,641.06" fill="#6fa9c5" stroke="#1f3b36" stroke-width="1.0" stroke-linejoin="round"/>
<polygon points="13.89,650.27 44.55,638.01 78.12,656.70 48.05,666.62" fill="#7fc492" stroke="#1f3b36" stroke-width="1.0" stroke-linejoin="round"/><polygon points="13.64,646.42 44.30,634.16 77.87,652.85 47.80,662.77" fill="#7fc492" stroke="#1f3b36" stroke-width="1.0" stroke-linejoin="round"/><polygon points="13.39,642.57 44.05,630.31 77.62,649.00 47.55,658.92" fill="#7fc492" stroke="#1f3b36" stroke-width="1.0" stroke-linejoin="round"/><polygon points="13.14,638.72 43.80,626.46 77.37,645.15 47.30,655.07" fill="#7fc492" stroke="#1f3b36" stroke-width="1.0" stroke-linejoin="round"/>
<polygon points="108.78,657.71 135.06,640.78 180.31,645.45 155.49,662.09" fill="#6fa9c5" stroke="#1f3b36" stroke-width="1.0" stroke-linejoin="round"/><polygon points="108.53,653.91 134.81,636.98 180.06,641.65 155.24,658.29" fill="#6fa9c5" stroke="#1f3b36" stroke-width="1.0" stroke-linejoin="round"/><polygon points="108.28,650.11 134.56,633.18 179.81,637.85 154.99,654.49" fill="#6fa9c5" stroke="#1f3b36" stroke-width="1.0" stroke-linejoin="round"/><polygon points="108.03,646.31 134.31,629.38 179.56,634.05 154.74,650.69" fill="#6fa9c5" stroke="#1f3b36" stroke-width="1.0" stroke-linejoin="round"/>
<line x1="41.5" y1="640.5" x2="41.5" y2="615.8" stroke="#2f524c" stroke-width="1.1"/>
<polygon points="41.5,609.3 37.5,617.4 45.5,617.4" fill="#2f524c"/>
<line x1="92.0" y1="640.5" x2="92.0" y2="615.8" stroke="#2f524c" stroke-width="1.1"/>
<polygon points="92.0,609.3 88.0,617.4 96.0,617.4" fill="#2f524c"/>
<line x1="141.6" y1="640.5" x2="141.6" y2="615.8" stroke="#2f524c" stroke-width="1.1"/>
<polygon points="141.6,609.3 137.6,617.4 145.6,617.4" fill="#2f524c"/>
<polygon points="6.4,630 159,630 159,677 6.4,677" fill="#b9d8d0" fill-opacity="0.12"/><path d="M6.4,630 L32.800000000000004,605.4 H185.4 V652.4 L159,677 H6.4 Z M6.4,630 H159 V677 M159,630 L185.4,605.4" fill="none" stroke="#a5d9cc" stroke-width="1.4" stroke-linejoin="round" stroke-opacity="0.85"/>
<text x="43.21" y="597.30" font-size="9.8" fill="#000" text-anchor="middle" font-weight="bold" >{002}<tspan dy="1.96" font-size="5.88">O</tspan><tspan dy="-1.96" dx="0.4" font-size="0.98">&#8203;</tspan></text>
<text x="91.39" y="597.30" font-size="9.8" fill="#000" text-anchor="middle" font-weight="bold" >(110)<tspan dy="1.96" font-size="5.88">T</tspan><tspan dy="-1.96" dx="0.4" font-size="0.98">&#8203;</tspan></text>
<text x="141.02" y="597.30" font-size="9.8" fill="#000" text-anchor="middle" font-weight="bold" >(002)<tspan dy="1.96" font-size="5.88">T</tspan><tspan dy="-1.96" dx="0.4" font-size="0.98">&#8203;</tspan></text>
<polygon points="255.2,631 281.4,606.5 434.2,606.5 434.2,653.0 408,677.5 255.2,677.5" fill="#b9d6ce"/><polygon points="255.2,631 281.4,606.5 434.2,606.5 408,631" fill="#c3dbd5"/><polygon points="408,631 434.2,606.5 434.2,653.0 408,677.5" fill="url(#boxr)"/>
<polygon points="307.64,641.92 331.00,638.41 371.88,644.84 349.98,651.26" fill="#6fa9c5" stroke="#1f3b36" stroke-width="1.0" stroke-linejoin="round"/><polygon points="307.39,638.52 330.75,635.01 371.63,641.44 349.73,647.86" fill="#6fa9c5" stroke="#1f3b36" stroke-width="1.0" stroke-linejoin="round"/><polygon points="307.14,635.12 330.50,631.61 371.38,638.04 349.48,644.46" fill="#6fa9c5" stroke="#1f3b36" stroke-width="1.0" stroke-linejoin="round"/><polygon points="306.89,631.72 330.25,628.21 371.13,634.64 349.23,641.06" fill="#6fa9c5" stroke="#1f3b36" stroke-width="1.0" stroke-linejoin="round"/>
<polygon points="262.39,650.27 293.05,638.01 326.62,656.70 296.55,666.62" fill="#7fc492" stroke="#1f3b36" stroke-width="1.0" stroke-linejoin="round"/><polygon points="262.14,646.42 292.80,634.16 326.37,652.85 296.30,662.77" fill="#7fc492" stroke="#1f3b36" stroke-width="1.0" stroke-linejoin="round"/><polygon points="261.89,642.57 292.55,630.31 326.12,649.00 296.05,658.92" fill="#7fc492" stroke="#1f3b36" stroke-width="1.0" stroke-linejoin="round"/><polygon points="261.64,638.72 292.30,626.46 325.87,645.15 295.80,655.07" fill="#7fc492" stroke="#1f3b36" stroke-width="1.0" stroke-linejoin="round"/>
<polygon points="357.28,657.71 383.56,640.78 428.81,645.45 403.99,662.09" fill="#6fa9c5" stroke="#1f3b36" stroke-width="1.0" stroke-linejoin="round"/><polygon points="357.03,653.91 383.31,636.98 428.56,641.65 403.74,658.29" fill="#6fa9c5" stroke="#1f3b36" stroke-width="1.0" stroke-linejoin="round"/><polygon points="356.78,650.11 383.06,633.18 428.31,637.85 403.49,654.49" fill="#6fa9c5" stroke="#1f3b36" stroke-width="1.0" stroke-linejoin="round"/><polygon points="356.53,646.31 382.81,629.38 428.06,634.05 403.24,650.69" fill="#6fa9c5" stroke="#1f3b36" stroke-width="1.0" stroke-linejoin="round"/>
<line x1="290.0" y1="640.5" x2="290.0" y2="615.8" stroke="#2f524c" stroke-width="1.1"/>
<polygon points="290.0,609.3 286.0,617.4 294.0,617.4" fill="#2f524c"/>
<line x1="340.5" y1="640.5" x2="340.5" y2="615.8" stroke="#2f524c" stroke-width="1.1"/>
<polygon points="340.5,609.3 336.5,617.4 344.5,617.4" fill="#2f524c"/>
<line x1="390.1" y1="640.5" x2="390.1" y2="615.8" stroke="#2f524c" stroke-width="1.1"/>
<polygon points="390.1,609.3 386.1,617.4 394.1,617.4" fill="#2f524c"/>
<polygon points="255.2,631 408,631 408,677.5 255.2,677.5" fill="#b9d8d0" fill-opacity="0.12"/><path d="M255.2,631 L281.4,606.5 H434.2 V653.0 L408,677.5 H255.2 Z M255.2,631 H408 V677.5 M408,631 L434.2,606.5" fill="none" stroke="#a5d9cc" stroke-width="1.4" stroke-linejoin="round" stroke-opacity="0.85"/>
<text x="291.71" y="597.30" font-size="9.8" fill="#000" text-anchor="middle" font-weight="bold" >{002}<tspan dy="1.96" font-size="5.88">O</tspan><tspan dy="-1.96" dx="0.4" font-size="0.98">&#8203;</tspan></text>
<text x="339.89" y="597.30" font-size="9.8" fill="#000" text-anchor="middle" font-weight="bold" >(110)<tspan dy="1.96" font-size="5.88">T</tspan><tspan dy="-1.96" dx="0.4" font-size="0.98">&#8203;</tspan></text>
<text x="389.52" y="597.30" font-size="9.8" fill="#000" text-anchor="middle" font-weight="bold" >(002)<tspan dy="1.96" font-size="5.88">T</tspan><tspan dy="-1.96" dx="0.4" font-size="0.98">&#8203;</tspan></text>
<polygon points="500.2,629.4 525.9000000000001,604.9 680,604.9 680,652.5 654.3,677 500.2,677" fill="#b9d6ce"/><polygon points="500.2,629.4 525.9000000000001,604.9 680,604.9 654.3,629.4" fill="#c3dbd5"/><polygon points="654.3,629.4 680,604.9 680,652.5 654.3,677" fill="url(#boxr)"/>
<polygon points="558.14,641.92 581.50,638.41 622.38,644.84 600.48,651.26" fill="#6fa9c5" stroke="#1f3b36" stroke-width="1.0" stroke-linejoin="round"/><polygon points="557.89,638.52 581.25,635.01 622.13,641.44 600.23,647.86" fill="#6fa9c5" stroke="#1f3b36" stroke-width="1.0" stroke-linejoin="round"/><polygon points="557.64,635.12 581.00,631.61 621.88,638.04 599.98,644.46" fill="#6fa9c5" stroke="#1f3b36" stroke-width="1.0" stroke-linejoin="round"/><polygon points="557.39,631.72 580.75,628.21 621.63,634.64 599.73,641.06" fill="#6fa9c5" stroke="#1f3b36" stroke-width="1.0" stroke-linejoin="round"/>
<polygon points="512.89,650.27 543.55,638.01 577.12,656.70 547.05,666.62" fill="#7fc492" stroke="#1f3b36" stroke-width="1.0" stroke-linejoin="round"/><polygon points="512.64,646.42 543.30,634.16 576.87,652.85 546.80,662.77" fill="#7fc492" stroke="#1f3b36" stroke-width="1.0" stroke-linejoin="round"/><polygon points="512.39,642.57 543.05,630.31 576.62,649.00 546.55,658.92" fill="#7fc492" stroke="#1f3b36" stroke-width="1.0" stroke-linejoin="round"/><polygon points="512.14,638.72 542.80,626.46 576.37,645.15 546.30,655.07" fill="#7fc492" stroke="#1f3b36" stroke-width="1.0" stroke-linejoin="round"/>
<polygon points="607.78,657.71 634.06,640.78 679.31,645.45 654.49,662.09" fill="#6fa9c5" stroke="#1f3b36" stroke-width="1.0" stroke-linejoin="round"/><polygon points="607.53,653.91 633.81,636.98 679.06,641.65 654.24,658.29" fill="#6fa9c5" stroke="#1f3b36" stroke-width="1.0" stroke-linejoin="round"/><polygon points="607.28,650.11 633.56,633.18 678.81,637.85 653.99,654.49" fill="#6fa9c5" stroke="#1f3b36" stroke-width="1.0" stroke-linejoin="round"/><polygon points="607.03,646.31 633.31,629.38 678.56,634.05 653.74,650.69" fill="#6fa9c5" stroke="#1f3b36" stroke-width="1.0" stroke-linejoin="round"/>
<line x1="540.5" y1="640.5" x2="540.5" y2="615.8" stroke="#2f524c" stroke-width="1.1"/>
<polygon points="540.5,609.3 536.5,617.4 544.5,617.4" fill="#2f524c"/>
<line x1="591.0" y1="640.5" x2="591.0" y2="615.8" stroke="#2f524c" stroke-width="1.1"/>
<polygon points="591.0,609.3 587.0,617.4 595.0,617.4" fill="#2f524c"/>
<line x1="640.6" y1="640.5" x2="640.6" y2="615.8" stroke="#2f524c" stroke-width="1.1"/>
<polygon points="640.6,609.3 636.6,617.4 644.6,617.4" fill="#2f524c"/>
<polygon points="500.2,629.4 654.3,629.4 654.3,677 500.2,677" fill="#b9d8d0" fill-opacity="0.12"/><path d="M500.2,629.4 L525.9000000000001,604.9 H680 V652.5 L654.3,677 H500.2 Z M500.2,629.4 H654.3 V677 M654.3,629.4 L680,604.9" fill="none" stroke="#a5d9cc" stroke-width="1.4" stroke-linejoin="round" stroke-opacity="0.85"/>
<text x="542.80" y="597.30" font-size="9.8" fill="#000" text-anchor="middle" font-weight="bold" >{110}<tspan dy="1.96" font-size="5.88">O</tspan><tspan dy="-1.96" dx="0.4" font-size="0.98">&#8203;</tspan></text>
<text x="590.97" y="597.30" font-size="9.8" fill="#000" text-anchor="middle" font-weight="bold" >(112)<tspan dy="1.96" font-size="5.88">T</tspan><tspan dy="-1.96" dx="0.4" font-size="0.98">&#8203;</tspan></text>
<text x="640.02" y="597.30" font-size="9.8" fill="#000" text-anchor="middle" font-weight="bold" >(020)<tspan dy="1.96" font-size="5.88">T</tspan><tspan dy="-1.96" dx="0.4" font-size="0.98">&#8203;</tspan></text>
</svg>
</body></html>
